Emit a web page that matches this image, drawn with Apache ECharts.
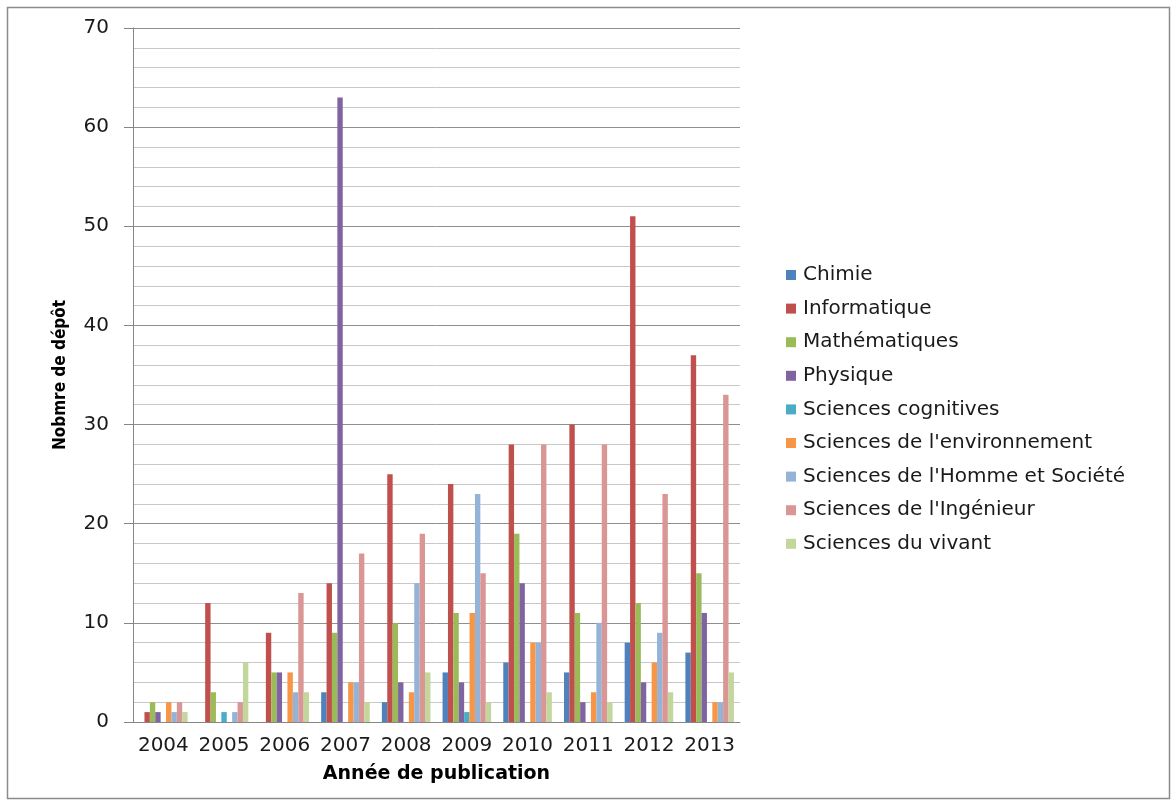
<!DOCTYPE html>
<html>
<head>
<meta charset="utf-8">
<script src="https://cdn.jsdelivr.net/npm/echarts@6/dist/echarts.min.js"></script>
<style>
html,body{margin:0;padding:0;background:#fff;}
#chart{width:1176px;height:805px;}
</style>
</head>
<body>
<div id="chart"></div>
<script>
const years = ['2004','2005','2006','2007','2008','2009','2010','2011','2012','2013'];
const seriesNames = ['Chimie','Informatique','Mathématiques','Physique','Sciences cognitives',"Sciences de l'environnement","Sciences de l'Homme et Société","Sciences de l'Ingénieur",'Sciences du vivant'];
const chimie       = [0, 0, 0, 3, 2, 5, 6, 5, 8, 7];
const informatique = [1, 12, 9, 14, 25, 24, 28, 30, 51, 37];
const mathematiques= [2, 3, 5, 9, 10, 11, 19, 11, 12, 15];
const physique     = [1, 0, 5, 63, 4, 4, 14, 2, 4, 11];
const cognitives   = [0, 1, 0, 0, 0, 1, 0, 0, 0, 0];
const environnement= [2, 0, 5, 4, 3, 11, 8, 3, 6, 2];
const hommeSociete = [1, 1, 3, 4, 14, 23, 8, 10, 9, 2];
const ingenieur    = [2, 2, 13, 17, 19, 15, 28, 28, 23, 33];
const vivant       = [1, 6, 3, 2, 5, 2, 3, 2, 3, 5];
const yTicks = [0, 10, 20, 30, 40, 50, 60, 70];

const allData = [chimie, informatique, mathematiques, physique, cognitives, environnement, hommeSociete, ingenieur, vivant];
const colors = ['#4F81BD','#C0504D','#9BBB59','#8064A2','#4BACC6','#F79646','#95B3D7','#D99694','#C3D69B'];

const chart = echarts.init(document.getElementById('chart'));
const option = {
  backgroundColor: '#ffffff',
  animation: false,
  color: colors,
  graphic: [{
    type: 'rect',
    shape: {x: 7.5, y: 7.5, width: 1162, height: 791},
    style: {fill: 'none', stroke: '#8c8c8c', lineWidth: 1.5},
    silent: true
  }],
  grid: {left: 133, top: 28, right: 436, bottom: 83, containLabel: false},
  legend: {
    orient: 'vertical',
    left: 781,
    top: 260,
    itemWidth: 10,
    itemHeight: 10,
    itemGap: 13.6,
    icon: 'rect',
    textStyle: {fontFamily: 'DejaVu Sans', fontSize: 20, color: '#1a1a1a', lineHeight: 18, padding: [0, 0, 0, 2]},
    data: seriesNames
  },
  xAxis: {
    type: 'category',
    data: years,
    name: 'Année de publication',
    nameLocation: 'middle',
    nameGap: 43,
    nameTextStyle: {fontFamily: 'DejaVu Sans', fontWeight: 'bold', fontSize: 19, color: '#000'},
    axisLine: {lineStyle: {color: '#868686', width: 1}},
    axisTick: {show: false},
    axisLabel: {interval: 0, fontFamily: 'DejaVu Sans', fontSize: 20, color: '#1a1a1a', margin: 14, hideOverlap: false},
    splitLine: {show: false}
  },
  yAxis: {
    type: 'value',
    min: 0,
    max: 70,
    interval: 10,
    name: 'Nobmre de dépôt',
    nameLocation: 'middle',
    nameGap: 64,
    nameRotate: 90,
    nameTextStyle: {fontFamily: "'Liberation Sans Narrow', 'DejaVu Sans Condensed', sans-serif", fontWeight: 'bold', fontSize: 17, color: '#000'},
    axisLine: {show: true, lineStyle: {color: '#868686', width: 1}},
    axisTick: {show: true, length: 9, lineStyle: {color: '#868686'}},
    axisLabel: {fontFamily: 'DejaVu Sans', fontSize: 20, color: '#1a1a1a', margin: 24,
      formatter: function (v) { return yTicks.indexOf(v) >= 0 ? String(v) : ''; }},
    splitLine: {show: true, lineStyle: {color: '#8f8f8f', width: 1}},
    minorTick: {show: false, splitNumber: 5},
    minorSplitLine: {show: true, lineStyle: {color: '#c8c8c8', width: 1}}
  },
  series: seriesNames.map(function (name, i) {
    return {
      name: name,
      type: 'bar',
      data: allData[i],
      barGap: '0%',
      barCategoryGap: '20%',
      itemStyle: {color: colors[i]}
    };
  })
};
chart.setOption(option);
</script>
</body>
</html>
